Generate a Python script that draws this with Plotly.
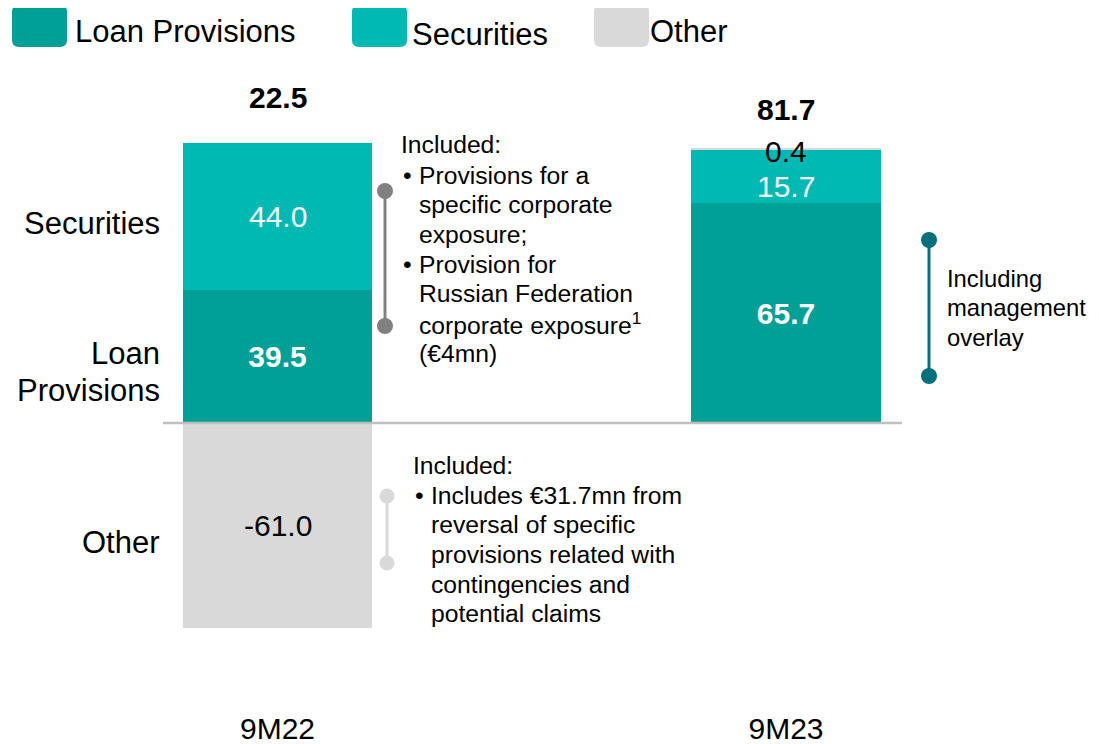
import plotly.graph_objects as go

# ---------------- data ----------------
categories = ["9M22", "9M23"]
loan_provisions = [39.5, 65.7]
securities = [44.0, 15.7]
other = [-61.0, 0.4]
totals = [22.5, 81.7]

series_names = ["Loan Provisions", "Securities", "Other"]
row_labels = ["Securities", "Loan", "Provisions", "Other"]

note_header = "Included:"
note_9m22_b1 = "Provisions for a<br>specific corporate<br>exposure;"
note_9m22_b2 = "Provision for<br>Russian Federation<br>corporate exposure<sup>1</sup><br>(€4mn)"
note_other_b1 = ("Includes €31.7mn from<br>reversal of specific<br>provisions related with"
                 "<br>contingencies and<br>potential claims")
note_9m23 = "Including<br>management<br>overlay"

# ---------------- style ----------------
C_LOAN = "#00A097"
C_SEC = "#00B9B3"
C_OTHER = "#D9D9D9"
C_BASE = "#BFBFBF"
C_BR_GRAY = "#808080"
C_BR_LIGHT = "#D9D9D9"
C_BR_TEAL = "#00717A"
FONT = "Arial, Liberation Sans, sans-serif"

OFF = 8                 # page body margin
W, H = 1099 - OFF, 744 - OFF
PLOT_H = 700 - OFF      # plot area height (bottom margin 44)


def px(x):
    """screen x (reference pixels) -> paper"""
    return (x - OFF) / W


def py(y):
    """screen y (reference pixels) -> paper"""
    return 1 - (y - OFF) / PLOT_H


fig = go.Figure()

fig.add_trace(go.Bar(
    x=categories, y=loan_provisions, name=series_names[0],
    marker=dict(color=C_LOAN, line=dict(width=0)),
    text=[f"<b>{v:.1f}</b>" for v in loan_provisions],
    textposition="inside", insidetextanchor="middle", textangle=0,
    textfont=dict(color="white", size=30, family=FONT),
    width=0.372, showlegend=False,
))
fig.add_trace(go.Bar(
    x=categories, y=securities, name=series_names[1],
    marker=dict(color=C_SEC, line=dict(width=0)),
    width=0.372, showlegend=False,
))
fig.add_trace(go.Bar(
    x=categories, y=other, name=series_names[2],
    marker=dict(color=C_OTHER, line=dict(width=0)),
    width=0.372, showlegend=False,
))

annotations = []
shapes = []

VAL_FONT_W = dict(size=30, color="white", family=FONT)
VAL_FONT_B = dict(size=30, color="black", family=FONT)

# securities values
annotations.append(dict(x=categories[0], y=loan_provisions[0] + securities[0] / 2, xref="x", yref="y",
                        text=f"{securities[0]:.1f}", showarrow=False, font=VAL_FONT_W))
annotations.append(dict(x=categories[1], y=loan_provisions[1] + securities[1] / 2, xref="x", yref="y",
                        text=f"{securities[1]:.1f}", showarrow=False, yshift=-10, font=VAL_FONT_W))
# other values
annotations.append(dict(x=categories[0], y=other[0] / 2, xref="x", yref="y",
                        text=f"{other[0]:.1f}", showarrow=False, font=VAL_FONT_B))

# totals
pos_top = [l + s + max(o, 0) for l, s, o in zip(loan_provisions, securities, other)]
annotations.append(dict(x=categories[0], y=pos_top[0], xref="x", yref="y",
                        text=f"<b>{totals[0]:.1f}</b>", showarrow=False, yshift=45, font=VAL_FONT_B))
annotations.append(dict(x=categories[1], y=pos_top[1], xref="x", yref="y",
                        text=f"<b>{totals[1]:.1f}</b>", showarrow=False, yshift=39, font=VAL_FONT_B))
# small "other" value for 9M23
annotations.append(dict(x=categories[1], y=pos_top[1], xref="x", yref="y",
                        text=f"{other[1]:.1f}", showarrow=False, yshift=-3, font=VAL_FONT_B))

# row labels on the left
for txt, yc in zip(row_labels, [224, 353, 390, 542]):
    annotations.append(dict(x=px(162), y=py(yc), xref="paper", yref="paper",
                            text=txt, showarrow=False, xanchor="right", yanchor="middle",
                            font=dict(size=31, color="black", family=FONT)))


# legend (manual)
def rounded_rect(x0, y0, x1, y1, r):
    pts = [
        f"M {px(x0 + r)} {py(y0)}",
        f"L {px(x1 - r)} {py(y0)}",
        f"Q {px(x1)} {py(y0)} {px(x1)} {py(y0 + r)}",
        f"L {px(x1)} {py(y1 - r)}",
        f"Q {px(x1)} {py(y1)} {px(x1 - r)} {py(y1)}",
        f"L {px(x0 + r)} {py(y1)}",
        f"Q {px(x0)} {py(y1)} {px(x0)} {py(y1 - r)}",
        f"L {px(x0)} {py(y0 + r)}",
        f"Q {px(x0)} {py(y0)} {px(x0 + r)} {py(y0)}",
        "Z",
    ]
    return " ".join(pts)


legend_items = [
    (series_names[0], C_LOAN, 12, 73, 32),
    (series_names[1], C_SEC, 352, 410, 35),
    (series_names[2], C_OTHER, 594, 648, 32),
]
for name, col, sx, tx, ty in legend_items:
    shapes.append(dict(type="path", path=rounded_rect(sx, 5, sx + 55, 47, 7),
                       xref="paper", yref="paper", fillcolor=col, line=dict(width=0)))
    annotations.append(dict(x=px(tx), y=py(ty), xref="paper", yref="paper",
                            text=name, showarrow=False, xanchor="left", yanchor="middle",
                            font=dict(size=31, color="black", family=FONT)))

# baseline
shapes.append(dict(type="line", xref="paper", yref="y", x0=px(163), x1=px(902), y0=0, y1=0,
                   line=dict(color=C_BASE, width=2.5), layer="above"))


# brackets
def bracket(x, y0, y1, col, r=8, w=3):
    shapes.append(dict(type="line", xref="paper", yref="paper", x0=px(x), x1=px(x),
                       y0=py(y0), y1=py(y1), line=dict(color=col, width=w)))
    for yy in (y0, y1):
        shapes.append(dict(type="circle", xref="paper", yref="paper",
                           x0=px(x - r), x1=px(x + r), y0=py(yy - r), y1=py(yy + r),
                           fillcolor=col, line=dict(width=0)))


bracket(385, 191, 326, C_BR_GRAY)
bracket(387, 496, 563, C_BR_LIGHT, r=7.5)
bracket(929, 240, 376, C_BR_TEAL)

NOTE_SIZE = 24.7
LINE_STEP = 29.7


def note(x, y_first, text, size=NOTE_SIZE):
    for i, line in enumerate(text.split("<br>")):
        annotations.append(dict(x=px(x), y=py(y_first + i * LINE_STEP), xref="paper", yref="paper",
                                text=line, showarrow=False, xanchor="left", yanchor="middle",
                                align="left", font=dict(size=size, color="black", family=FONT)))


# 9M22 notes
note(399, 145, note_header)
note(401, 175, "•")
note(417, 175, note_9m22_b1)
note(401, 264, "•")
note(417, 264, note_9m22_b2)
# Other notes
note(411, 465, note_header)
note(413, 495, "•")
note(429, 495, note_other_b1)
# 9M23 note
note(945, 278, note_9m23, size=23.8)

# axis ranges so that bar centres fall at x=277.5 / 786 and y=0 at 423 (screen px)
PX_PER_CAT = 508.5
PX_PER_UNIT = 3.355
x0_range = -(277.5 - OFF) / PX_PER_CAT
x1_range = x0_range + W / PX_PER_CAT
y_top = (423 - OFF) / PX_PER_UNIT
y_bot = -(PLOT_H - (423 - OFF)) / PX_PER_UNIT

fig.update_layout(
    width=W, height=H,
    margin=dict(l=0, r=0, t=0, b=H - PLOT_H, pad=0, autoexpand=False),
    barmode="relative",
    bargap=0,
    plot_bgcolor="white", paper_bgcolor="white",
    xaxis=dict(range=[x0_range, x1_range], showgrid=False, zeroline=False, showline=False,
               ticks="", tickfont=dict(size=30, color="black", family=FONT),
               ticklabelstandoff=8, automargin=False),
    yaxis=dict(range=[y_bot, y_top], visible=False, showgrid=False, zeroline=False,
               automargin=False),
    annotations=annotations,
    shapes=shapes,
    showlegend=False,
)

fig.write_html("out.html")
